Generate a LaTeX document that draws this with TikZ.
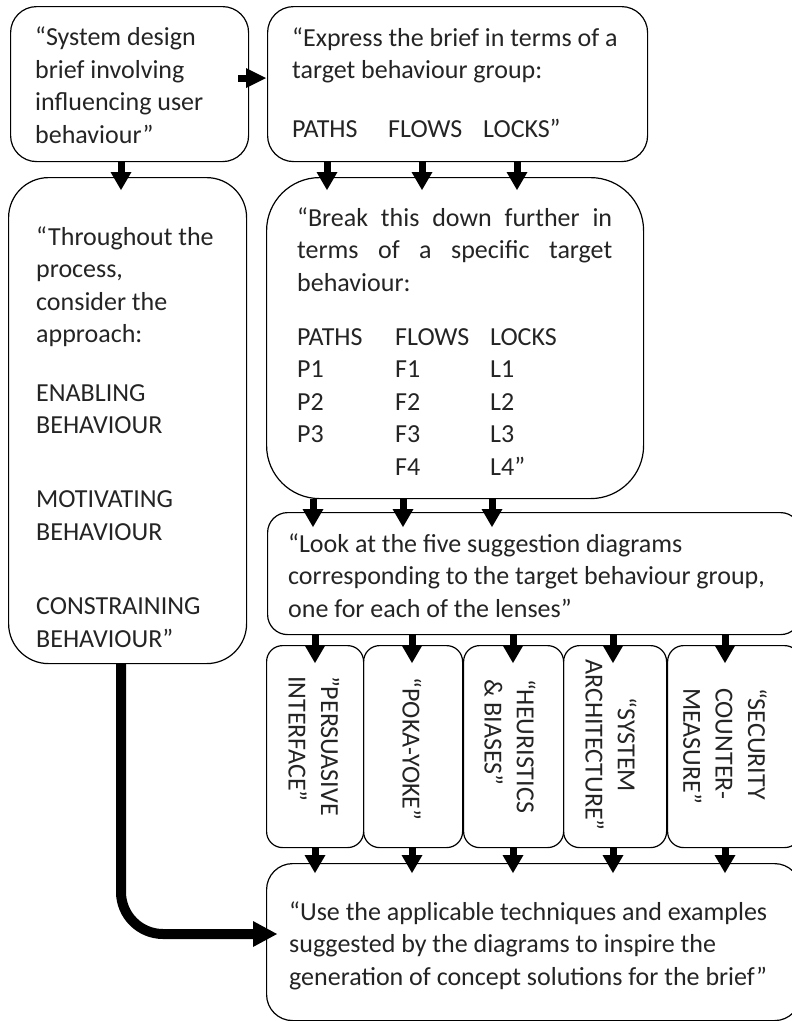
\documentclass[tikz,border=0pt]{standalone}
\usepackage{fontspec}
\setmainfont{Carlito}[Ligatures=ResetAll]
\usetikzlibrary{arrows.meta,calc}
\definecolor{txtc}{gray}{0.14}

\begin{document}
\begin{tikzpicture}[x=1pt,y=-1pt,
  box/.style={draw, line width=1.2pt, rounded corners=#1, inner sep=0pt,
    rectangle, anchor=north west},
  txt/.style={inner sep=0pt, align=left, text=txtc,
    font=\fontsize{26}{32.4}\selectfont},
  dn/.style={line width=7pt,
    -{Triangle[width=21pt,length=18pt,line width=0pt]}},
  rt/.style={line width=7pt,
    -{Triangle[width=20pt,length=20pt,line width=0pt]}},
  bigarrow/.style={line width=10pt, rounded corners=42pt,
    -{Triangle[width=26pt,length=24pt,line width=0pt]}}]

\clip (0,0) rectangle (792,1021);
\useasboundingbox (0,0) rectangle (792,1021);

% boxes
\node[box=26pt, minimum width=238pt, minimum height=155pt] (A) at (10,6) {};
\node[box=26pt, minimum width=380pt, minimum height=155pt] (B) at (267,6) {};
\node[box=40pt, minimum width=238pt, minimum height=486pt] (C) at (8,177) {};
\node[box=53pt, minimum width=377pt, minimum height=321pt] (D) at (266,177) {};
\node[box=20pt, minimum width=533pt, minimum height=122pt] (E) at (267,512) {};
\node[box=16pt, minimum width=97pt,  minimum height=202pt] (L1) at (266,645) {};
\node[box=16pt, minimum width=99pt,  minimum height=202pt] (L2) at (363,645) {};
\node[box=16pt, minimum width=100pt, minimum height=202pt] (L3) at (463,645) {};
\node[box=16pt, minimum width=103pt, minimum height=202pt] (L4) at (563,645) {};
\node[box=16pt, minimum width=133pt, minimum height=202pt] (L5) at (667,645) {};
\node[box=26pt, minimum width=534pt, minimum height=157pt] (F) at (266,863) {};

% texts (each node is placed by the baseline of its last line)
\node[txt, anchor=base west] (tA) at (35,143)
  {“System design\\brief involving\\influencing user\\behaviour"};
\node[txt, anchor=base west] (tB) at (292,137)
  {“Express the brief in terms of a\\target behaviour group:\\[26pt]%
   \makebox[96pt][l]{PATHS}\makebox[95pt][l]{FLOWS}LOCKS"};
\node[txt, anchor=base west] (tC) at (36,647)
  {“Throughout the\\process,\\consider the\\approach:\\[26pt]%
   ENABLING\\BEHAVIOUR\\[42pt]MOTIVATING\\BEHAVIOUR\\[42pt]%
   CONSTRAINING\\BEHAVIOUR”};
\node[txt, anchor=base west] (tD) at (297,475)
  {\makebox[315pt][s]{“Break this down further in}\\
   \makebox[315pt][s]{terms of a specific target}\\
   behaviour:\\[22pt]%
   \makebox[98pt][l]{PATHS}\makebox[95pt][l]{FLOWS}LOCKS\\
   \makebox[98pt][l]{P1}\makebox[95pt][l]{F1}L1\\
   \makebox[98pt][l]{P2}\makebox[95pt][l]{F2}L2\\
   \makebox[98pt][l]{P3}\makebox[95pt][l]{F3}L3\\
   \makebox[98pt][l]{}\makebox[95pt][l]{F4}L4”};
\node[txt, anchor=base west] (tE) at (288,617)
  {“Look at the five suggestion diagrams\\
   corresponding to the target behaviour group,\\
   one for each of the lenses”};
\node[txt, anchor=base west] (tF) at (289,985)
  {“Use the applicable techniques and examples\\
   suggested by the diagrams to inspire the\\
   generation of concept solutions for the brief”};

% lens labels, set sideways
\node[txt, rotate=-90] (t1) at (314,746) {"PERSUASIVE\\INTERFACE”};
\node[txt, rotate=-90] (t2) at (412,749) {“POKA-YOKE”};
\node[txt, rotate=-90] (t3) at (510,746) {“HEURISTICS\\\& BIASES”};
\node[txt, rotate=-90, align=center] (t4) at (611,745) {“SYSTEM\\ARCHITECTURE”};
\node[txt, rotate=-90] (t5) at (725,746) {“SECURITY\\COUNTER-\\MEASURE”};

% connectors
\draw[rt] ($(A.east |- 0,78)+(-11,0)$) -- ($(B.west |- 0,78)+(-1,0)$);
\draw[dn] (A.south -| 121,0) -- ($(C.north -| 121,0)+(0,13)$);

\foreach \x in {327,422,517}
  \draw[dn] (B.south -| \x,0) -- ($(D.north -| \x,0)+(0,13)$);
\foreach \x in {313,403,492}
  \draw[dn] (D.south -| \x,0) -- ($(E.north -| \x,0)+(0,15)$);

\draw[dn] (E.south -| 315,0) -- ($(L1.north -| 315,0)+(0,18)$);
\draw[dn] (E.south -| 412,0) -- ($(L2.north -| 412,0)+(0,18)$);
\draw[dn] (E.south -| 513,0) -- ($(L3.north -| 513,0)+(0,18)$);
\draw[dn] (E.south -| 613,0) -- ($(L4.north -| 613,0)+(0,18)$);
\draw[dn] (E.south -| 725,0) -- ($(L5.north -| 725,0)+(0,18)$);

\draw[dn] (L1.south -| 315,0) -- ($(F.north -| 315,0)+(0,10)$);
\draw[dn] (L2.south -| 412,0) -- ($(F.north -| 412,0)+(0,10)$);
\draw[dn] (L3.south -| 513,0) -- ($(F.north -| 513,0)+(0,10)$);
\draw[dn] (L4.south -| 613,0) -- ($(F.north -| 613,0)+(0,10)$);
\draw[dn] (L5.south -| 725,0) -- ($(F.north -| 725,0)+(0,10)$);

\draw[bigarrow] (C.south -| 121,0) |- ($(F.west |- 0,934)+(11,0)$);
\end{tikzpicture}
\end{document}
